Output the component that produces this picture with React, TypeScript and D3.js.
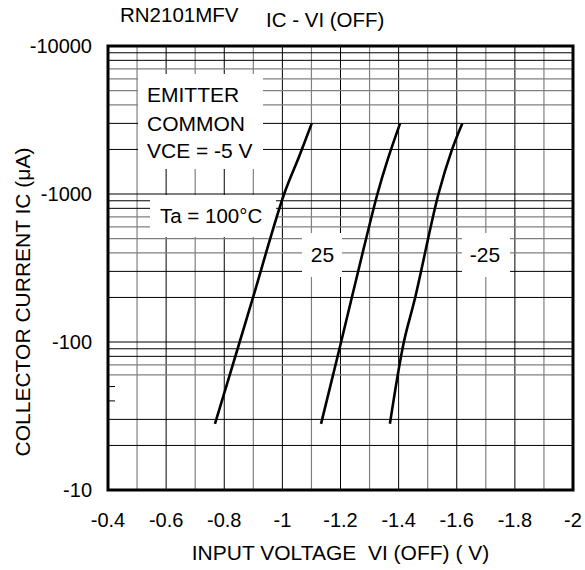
import React from "react";
import * as d3 from "d3";

const xTicks = [-0.4, -0.6, -0.8, -1, -1.2, -1.4, -1.6, -1.8, -2];
const xTickLabels = ["-0.4", "-0.6", "-0.8", "-1", "-1.2", "-1.4", "-1.6", "-1.8", "-2"];
const xMinor = [-0.5, -0.7, -0.9, -1.1, -1.3, -1.5, -1.7, -1.9];
const yTicks = [-10, -100, -1000, -10000];
const yTickLabels = ["-10", "-100", "-1000", "-10000"];
const minorMult = [2, 3, 4, 5, 6, 7, 8, 9];

const v100 = [-0.768, -0.853, -0.899, -1.006, -1.058, -1.101];
const i100 = [-28, -100, -200, -1000, -1800, -3000];
const v25 = [-1.133, -1.201, -1.239, -1.327, -1.362, -1.405];
const i25 = [-28, -98, -200, -1000, -1700, -3000];
const vm25 = [-1.37, -1.418, -1.457, -1.537, -1.583, -1.619];
const im25 = [-28, -100, -200, -1000, -1980, -3000];

const FONT = "'Liberation Sans', Arial, sans-serif";

export default function App() {
  const L = 108, R = 573, T = 46, B = 490;
  const x = d3.scaleLinear().domain([-0.4, -2]).range([L, R]);
  const y = d3.scaleLog().domain([-10, -10000]).range([B, T]);
  const line = d3
    .line<[number, number]>()
    .x((d) => x(d[0]))
    .y((d) => y(d[1]))
    .curve(d3.curveCatmullRom.alpha(0.5));
  const series = [
    [v100, i100],
    [v25, i25],
    [vm25, im25],
  ].map(([vs, is]) => vs.map((v, k) => [v, is[k]] as [number, number]));

  const hLines: { y: number; dark: boolean; short: boolean }[] = [];
  [-10, -100, -1000].forEach((dec) => {
    minorMult.forEach((m) => {
      const val = dec * m;
      hLines.push({
        y: y(val),
        dark: m === 2 || m === 3 || m === 8 || m === 9,
        short: dec === -10 && (m === 4 || m === 5),
      });
    });
  });

  const boxes = [
    { x: 138, y: 74, w: 125, h: 95 },
    { x: 150, y: 195, w: 126, h: 42 },
    { x: 302, y: 233, w: 40, h: 44 },
    { x: 462, y: 233, w: 48, h: 44 },
  ];

  return (
    <svg
      width={585}
      height={570}
      style={{ position: "absolute", left: 0, top: 0, background: "#fff" }}
      fontFamily={FONT}
    >
      <rect x={0} y={0} width={585} height={570} fill="#fff" />
      {xMinor.map((v, i) => (
        <line key={"xm" + i} x1={x(v)} x2={x(v)} y1={T} y2={B} stroke="#808080" strokeWidth={1.2} />
      ))}
      {xTicks.slice(1, -1).map((v, i) => (
        <line key={"xM" + i} x1={x(v)} x2={x(v)} y1={T} y2={B} stroke="#000" strokeWidth={1} />
      ))}
      {hLines.map((h, i) => (
        <line
          key={"h" + i}
          x1={L}
          x2={h.short ? L + 7 : R}
          y1={h.y}
          y2={h.y}
          stroke={h.dark || h.short ? "#000" : "#808080"}
          strokeWidth={h.dark || h.short ? 1 : 1.2}
        />
      ))}
      {yTicks.slice(1, -1).map((v, i) => (
        <line key={"yM" + i} x1={L} x2={R} y1={y(v)} y2={y(v)} stroke="#000" strokeWidth={1} />
      ))}
      {boxes.map((b, i) => (
        <rect key={"b" + i} x={b.x} y={b.y} width={b.w} height={b.h} fill="#fff" />
      ))}
      {series.map((s, i) => (
        <path key={"c" + i} d={line(s) || ""} fill="none" stroke="#000" strokeWidth={2.6} />
      ))}
      <rect x={L} y={T} width={R - L} height={B - T} fill="none" stroke="#000" strokeWidth={3} />
      {yTicks.map((v, i) => (
        <text key={"yt" + i} x={92} y={y(v)} dy="0.35em" textAnchor="end" fontSize={20}>
          {yTickLabels[i]}
        </text>
      ))}
      {xTicks.map((v, i) => (
        <text key={"xt" + i} x={x(v)} y={526.5} textAnchor="middle" fontSize={20}>
          {xTickLabels[i]}
        </text>
      ))}
      <text x={120} y={21.5} fontSize={20.5}>RN2101MFV</text>
      <text x={266} y={26.5} fontSize={20.5}>IC - VI (OFF)</text>
      <text x={(L + R) / 2} y={560} textAnchor="middle" fontSize={21} style={{ whiteSpace: "pre" }}>
        {"INPUT VOLTAGE  VI (OFF) ( V)"}
      </text>
      <text transform="translate(30,302) rotate(-90)" textAnchor="middle" fontSize={21}>
        COLLECTOR CURRENT IC (μA)
      </text>
      <text x={147} y={102} fontSize={21}>EMITTER</text>
      <text x={147} y={130.5} fontSize={21}>COMMON</text>
      <text x={147} y={157.5} fontSize={21}>VCE = -5 V</text>
      <text x={160} y={222.5} fontSize={20.5}>Ta = 100°C</text>
      <text x={322.5} y={261.5} textAnchor="middle" fontSize={21}>25</text>
      <text x={485} y={261.5} textAnchor="middle" fontSize={21}>-25</text>
    </svg>
  );
}
